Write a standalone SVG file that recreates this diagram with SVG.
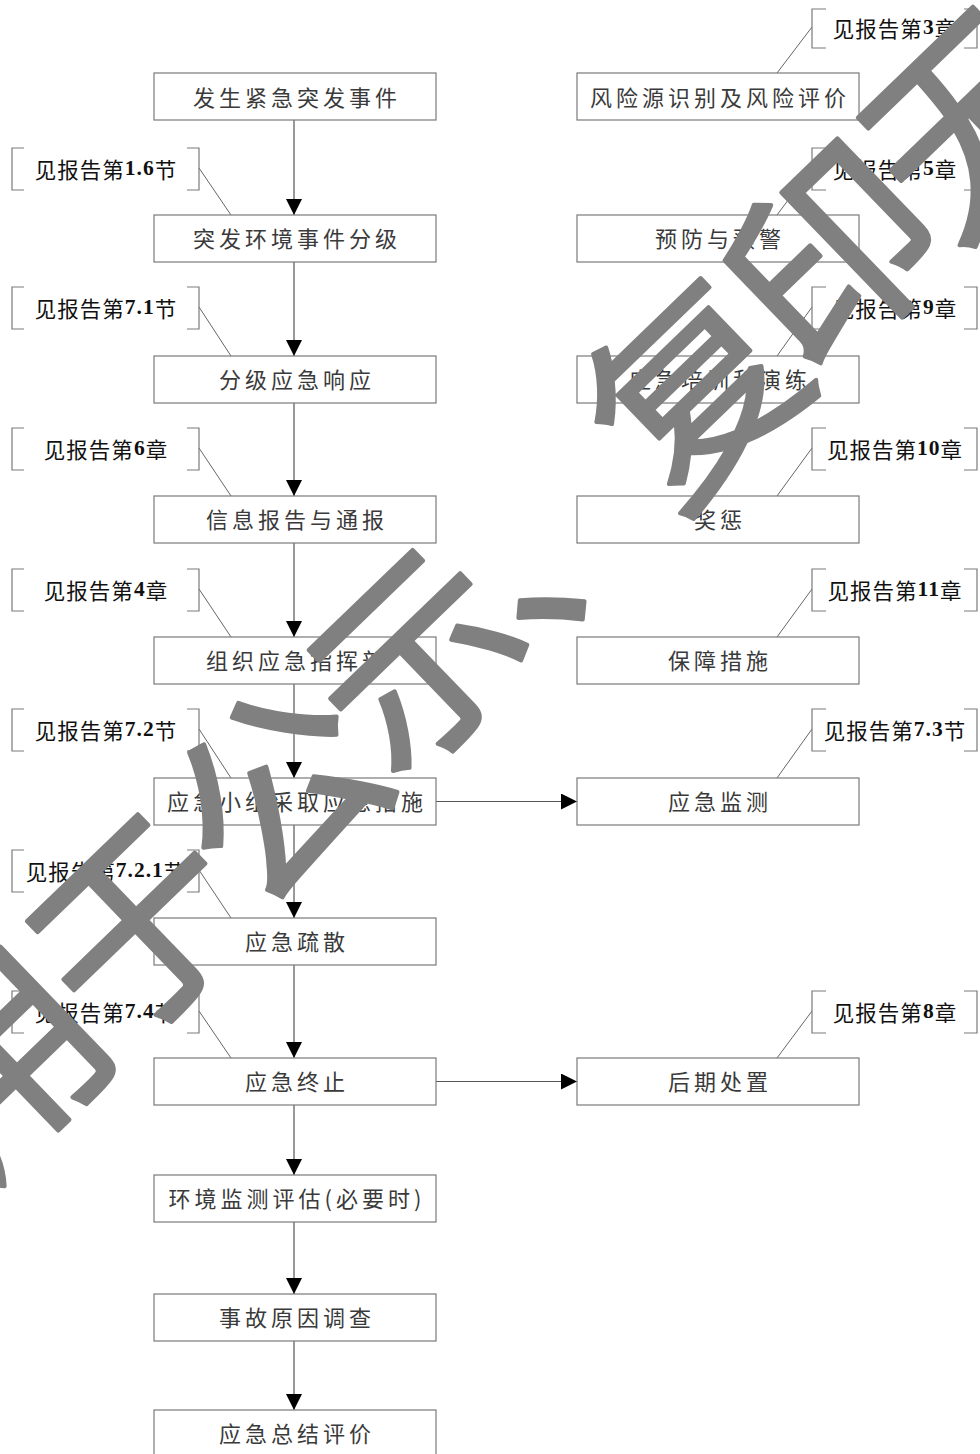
<svg xmlns="http://www.w3.org/2000/svg" width="980" height="1454" viewBox="0 0 980 1454">
<defs>
<style>
.box{fill:#fff;stroke:#7a7a7a;stroke-width:1.2}
.nt{font-family:"Noto Sans CJK SC","Liberation Serif",sans-serif;font-size:22px;letter-spacing:4px;fill:#3a3a3a;text-anchor:middle;dominant-baseline:central}
.br{fill:none;stroke:#7a7a7a;stroke-width:1.2}
.lt{font-family:"Noto Sans CJK SC",sans-serif;font-size:21.5px;letter-spacing:1px;fill:#111;text-anchor:middle;dominant-baseline:central}
.num{font-family:"Liberation Serif",serif;font-weight:bold}
.ld{stroke:#666;stroke-width:1;fill:none}
.cn{stroke:#555;stroke-width:1.2;fill:none}
.wm{font-family:"Noto Sans CJK SC",sans-serif;font-weight:normal;font-size:205px;letter-spacing:-12px;fill:#808080;stroke:#808080;stroke-width:4;stroke-linejoin:round;dominant-baseline:central}
</style>
<marker id="ah" markerWidth="16" markerHeight="16" refX="16" refY="8" orient="auto" markerUnits="userSpaceOnUse">
<path d="M0,0 L16,8 L0,16 Z" fill="#000"/>
</marker>
</defs>
<rect width="980" height="1454" fill="#fff"/>

<g id="connectors">
<line class="cn" x1="294" y1="120" x2="294" y2="215" marker-end="url(#ah)"/>
<line class="cn" x1="294" y1="262" x2="294" y2="356" marker-end="url(#ah)"/>
<line class="cn" x1="294" y1="403" x2="294" y2="496" marker-end="url(#ah)"/>
<line class="cn" x1="294" y1="543" x2="294" y2="637" marker-end="url(#ah)"/>
<line class="cn" x1="294" y1="684" x2="294" y2="778" marker-end="url(#ah)"/>
<line class="cn" x1="294" y1="825" x2="294" y2="918" marker-end="url(#ah)"/>
<line class="cn" x1="294" y1="965" x2="294" y2="1058" marker-end="url(#ah)"/>
<line class="cn" x1="294" y1="1105" x2="294" y2="1175" marker-end="url(#ah)"/>
<line class="cn" x1="294" y1="1222" x2="294" y2="1294" marker-end="url(#ah)"/>
<line class="cn" x1="294" y1="1341" x2="294" y2="1410" marker-end="url(#ah)"/>
<line class="cn" x1="436" y1="801.5" x2="577" y2="801.5" marker-end="url(#ah)"/>
<line class="cn" x1="436" y1="1081.5" x2="577" y2="1081.5" marker-end="url(#ah)"/>
<line class="ld" x1="199" y1="168" x2="231" y2="215"/>
<line class="ld" x1="199" y1="307" x2="231" y2="356"/>
<line class="ld" x1="199" y1="448" x2="231" y2="496"/>
<line class="ld" x1="199" y1="589" x2="231" y2="637"/>
<line class="ld" x1="199" y1="729" x2="231" y2="778"/>
<line class="ld" x1="199" y1="870" x2="231" y2="918"/>
<line class="ld" x1="199" y1="1011" x2="231" y2="1058"/>
<line class="ld" x1="812" y1="27" x2="777" y2="73"/>
<line class="ld" x1="812" y1="168" x2="777" y2="215"/>
<line class="ld" x1="812" y1="307" x2="777" y2="356"/>
<line class="ld" x1="812" y1="448" x2="777" y2="496"/>
<line class="ld" x1="812" y1="589" x2="777" y2="637"/>
<line class="ld" x1="812" y1="729" x2="777" y2="778"/>
<line class="ld" x1="812" y1="1011" x2="777" y2="1058"/>
</g>

<g id="n1"><rect class="box" x="154" y="73" width="282" height="47"/><text class="nt" x="297" y="95.5">发生紧急突发事件</text></g>
<g id="n2"><rect class="box" x="154" y="215" width="282" height="47"/><text class="nt" x="297" y="237">突发环境事件分级</text></g>
<g id="n3"><rect class="box" x="154" y="356" width="282" height="47"/><text class="nt" x="297" y="378">分级应急响应</text></g>
<g id="n4"><rect class="box" x="154" y="496" width="282" height="47"/><text class="nt" x="297" y="518">信息报告与通报</text></g>
<g id="n5"><rect class="box" x="154" y="637" width="282" height="47"/><text class="nt" x="297" y="659">组织应急指挥部</text></g>
<g id="n6"><rect class="box" x="154" y="778" width="282" height="47"/><text class="nt" x="297" y="800">应急小组采取应急措施</text></g>
<g id="n7"><rect class="box" x="154" y="918" width="282" height="47"/><text class="nt" x="297" y="940">应急疏散</text></g>
<g id="n8"><rect class="box" x="154" y="1058" width="282" height="47"/><text class="nt" x="297" y="1080">应急终止</text></g>
<g id="n9"><rect class="box" x="154" y="1175" width="282" height="47"/><text class="nt" x="297" y="1197">环境监测评估(必要时)</text></g>
<g id="n10"><rect class="box" x="154" y="1294" width="282" height="47"/><text class="nt" x="297" y="1316">事故原因调查</text></g>
<g id="n11"><rect class="box" x="154" y="1410" width="282" height="47"/><text class="nt" x="297" y="1432">应急总结评价</text></g>

<g id="r1"><rect class="box" x="577" y="73" width="282" height="47"/><text class="nt" x="720" y="95.5">风险源识别及风险评价</text></g>
<g id="r2"><rect class="box" x="577" y="215" width="282" height="47"/><text class="nt" x="720" y="237">预防与预警</text></g>
<g id="r3"><rect class="box" x="577" y="356" width="282" height="47"/><text class="nt" x="720" y="378">应急培训和演练</text></g>
<g id="r4"><rect class="box" x="577" y="496" width="282" height="47"/><text class="nt" x="720" y="518">奖惩</text></g>
<g id="r5"><rect class="box" x="577" y="637" width="282" height="47"/><text class="nt" x="720" y="659">保障措施</text></g>
<g id="r6"><rect class="box" x="577" y="778" width="282" height="47"/><text class="nt" x="720" y="800">应急监测</text></g>
<g id="r7"><rect class="box" x="577" y="1058" width="282" height="47"/><text class="nt" x="720" y="1080">后期处置</text></g>

<g id="l1"><path class="br" d="M24,148 H12 V190 H24 M187,148 H199 V190 H187"/><text class="lt" x="106" y="168">见报告第<tspan class="num">1.6</tspan>节</text></g>
<g id="l2"><path class="br" d="M24,287 H12 V329 H24 M187,287 H199 V329 H187"/><text class="lt" x="106" y="307">见报告第<tspan class="num">7.1</tspan>节</text></g>
<g id="l3"><path class="br" d="M24,428 H12 V470 H24 M187,428 H199 V470 H187"/><text class="lt" x="106" y="448">见报告第<tspan class="num">6</tspan>章</text></g>
<g id="l4"><path class="br" d="M24,569 H12 V611 H24 M187,569 H199 V611 H187"/><text class="lt" x="106" y="589">见报告第<tspan class="num">4</tspan>章</text></g>
<g id="l5"><path class="br" d="M24,709 H12 V751 H24 M187,709 H199 V751 H187"/><text class="lt" x="106" y="729">见报告第<tspan class="num">7.2</tspan>节</text></g>
<g id="l6"><path class="br" d="M24,850 H12 V892 H24 M187,850 H199 V892 H187"/><text class="lt" x="106" y="870">见报告第<tspan class="num">7.2.1</tspan>节</text></g>
<g id="l7"><path class="br" d="M24,991 H12 V1033 H24 M187,991 H199 V1033 H187"/><text class="lt" x="106" y="1011">见报告第<tspan class="num">7.4</tspan>节</text></g>

<g id="m1"><path class="br" d="M826,9 H812 V48 H826 M964,9 H977 V48 H964"/><text class="lt" x="895" y="27">见报告第<tspan class="num">3</tspan>章</text></g>
<g id="m2"><path class="br" d="M826,148 H812 V190 H826 M964,148 H977 V190 H964"/><text class="lt" x="895" y="168">见报告第<tspan class="num">5</tspan>章</text></g>
<g id="m3"><path class="br" d="M826,287 H812 V329 H826 M964,287 H977 V329 H964"/><text class="lt" x="895" y="307">见报告第<tspan class="num">9</tspan>章</text></g>
<g id="m4"><path class="br" d="M826,428 H812 V470 H826 M964,428 H977 V470 H964"/><text class="lt" x="895" y="448">见报告第<tspan class="num">10</tspan>章</text></g>
<g id="m5"><path class="br" d="M826,569 H812 V611 H826 M964,569 H977 V611 H964"/><text class="lt" x="895" y="589">见报告第<tspan class="num">11</tspan>章</text></g>
<g id="m6"><path class="br" d="M826,709 H812 V751 H826 M964,709 H977 V751 H964"/><text class="lt" x="895" y="729">见报告第<tspan class="num">7.3</tspan>节</text></g>
<g id="m7"><path class="br" d="M826,991 H812 V1033 H826 M964,991 H977 V1033 H964"/><text class="lt" x="895" y="1011">见报告第<tspan class="num">8</tspan>章</text></g>

<g id="watermark"><text class="wm" transform="translate(-83,1122) rotate(-44)" x="0" y="0">用于公示、复印无效</text></g>
</svg>
